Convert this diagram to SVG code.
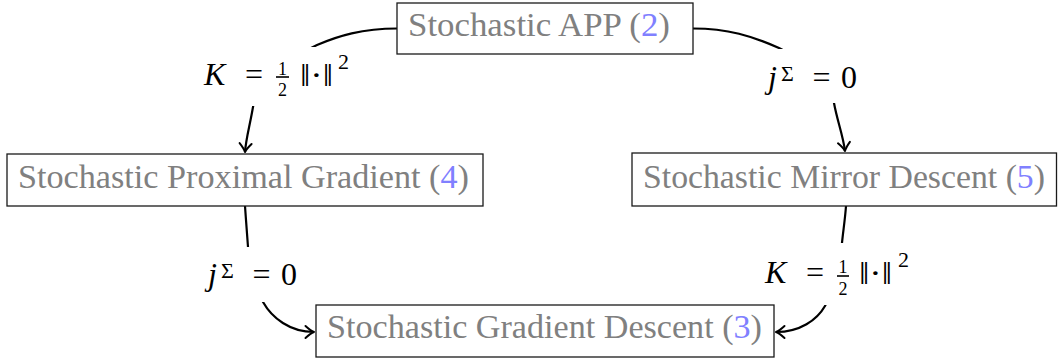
<svg xmlns="http://www.w3.org/2000/svg" width="1058" height="360" viewBox="0 0 1058 360">
  <style>
    .box { fill: #ffffff; stroke: #1a1a1a; stroke-width: 1.3; }
    .ntext { font-family: 'Liberation Serif', 'Times New Roman', 'DejaVu Serif', serif; font-size: 33px; fill: #808080; }
    .ref { fill: #8080ff; }
    .edge { fill: none; stroke: #000000; stroke-width: 2.2; }
    .lbg { fill: #ffffff; stroke: none; }
    .m { font-family: 'Liberation Serif', 'Times New Roman', 'DejaVu Serif', serif; font-size: 32px; fill: #000000; }
    .mi { font-style: italic; }
    .ms { font-size: 22px; }
    .mf { font-size: 18px; }
  </style>
  <defs>
    <marker id="arr" markerUnits="userSpaceOnUse" markerWidth="20" markerHeight="20" refX="0" refY="0" viewBox="-12 -10 14 20" orient="auto" overflow="visible">
      <path d="M-8.5,-6 C-5,-2.8 -2,-0.8 0,0 C-2,0.8 -5,2.8 -8.5,6" fill="none" stroke="#000" stroke-width="2" stroke-linecap="round" stroke-linejoin="round"/>
    </marker>
  </defs>

  <g id="connectors">
    <path class="edge" marker-end="url(#arr)" d="M397,28.5 C362,28.5 338,36 317,45 C285,60 258,80 253,107 C250,125 246,138 245,152"/>
    <path class="edge" marker-end="url(#arr)" d="M693,28.5 C728,28.5 752,36 779,48 C810,63 830,82 834,103 C837,120 843,135 845,151"/>
    <path class="edge" marker-end="url(#arr)" d="M245,206 C246,220 247,235 248,247 C250,270 255,290 263,302 C272,318 290,332 314,332"/>
    <path class="edge" marker-end="url(#arr)" d="M846,206 C845,220 843,232 842,243 C838,270 833,292 825,306 C817,320 800,332 776,332"/>
  </g>

  <g id="edge-labels">
    <g id="label-app-prox" transform="translate(204,85)">
      <rect class="lbg" x="-11" y="-38" width="165" height="59"/>
      <text class="m mi" x="0" y="0">K</text>
      <text class="m" x="50" y="0" text-anchor="middle">=</text>
      <text class="m mf" x="78.5" y="-10" text-anchor="middle">1</text>
      <rect x="72" y="-8.8" width="13" height="1.6" fill="#000"/>
      <text class="m mf" x="78.5" y="11" text-anchor="middle">2</text>
      <text class="m" x="96" y="1" textLength="33" lengthAdjust="spacingAndGlyphs">‖·‖</text>
      <text class="m ms" x="134" y="-16">2</text>
    </g>
    <g id="label-app-mirror" transform="translate(768,88)">
      <rect class="lbg" x="-11" y="-39" width="112" height="54"/>
      <text class="m mi" x="0" y="0">j</text>
      <text class="m ms" x="13" y="-7">Σ</text>
      <text class="m" x="53.5" y="0" text-anchor="middle">=</text>
      <text class="m" x="81" y="0" text-anchor="middle">0</text>
    </g>
    <g id="label-prox-sgd" transform="translate(208,285)">
      <rect class="lbg" x="-11" y="-38" width="112" height="55"/>
      <text class="m mi" x="0" y="0">j</text>
      <text class="m ms" x="13" y="-7">Σ</text>
      <text class="m" x="53.5" y="0" text-anchor="middle">=</text>
      <text class="m" x="81" y="0" text-anchor="middle">0</text>
    </g>
    <g id="label-mirror-sgd" transform="translate(765,283)">
      <rect class="lbg" x="-11" y="-40" width="165" height="62"/>
      <text class="m mi" x="0" y="0">K</text>
      <text class="m" x="50" y="0" text-anchor="middle">=</text>
      <text class="m mf" x="78" y="-10" text-anchor="middle">1</text>
      <rect x="72" y="-7.8" width="12" height="1.6" fill="#000"/>
      <text class="m mf" x="78" y="12" text-anchor="middle">2</text>
      <text class="m" x="94" y="1" textLength="33" lengthAdjust="spacingAndGlyphs">‖·‖</text>
      <text class="m ms" x="133" y="-16">2</text>
    </g>
  </g>

  <g id="node-app">
    <rect class="box" x="397" y="3" width="296" height="51"/>
    <text class="ntext" x="408" y="36" textLength="262" lengthAdjust="spacingAndGlyphs">Stochastic APP (<tspan class="ref">2</tspan>)</text>
  </g>
  <g id="node-prox">
    <rect class="box" x="7" y="154" width="476" height="52"/>
    <text class="ntext" x="18" y="188" textLength="451" lengthAdjust="spacingAndGlyphs">Stochastic Proximal Gradient (<tspan class="ref">4</tspan>)</text>
  </g>
  <g id="node-mirror">
    <rect class="box" x="632" y="153" width="424.5" height="53"/>
    <text class="ntext" x="643" y="188" textLength="402" lengthAdjust="spacingAndGlyphs">Stochastic Mirror Descent (<tspan class="ref">5</tspan>)</text>
  </g>
  <g id="node-sgd">
    <rect class="box" x="316" y="305" width="458" height="52"/>
    <text class="ntext" x="327" y="338" textLength="435" lengthAdjust="spacingAndGlyphs">Stochastic Gradient Descent (<tspan class="ref">3</tspan>)</text>
  </g>
</svg>
